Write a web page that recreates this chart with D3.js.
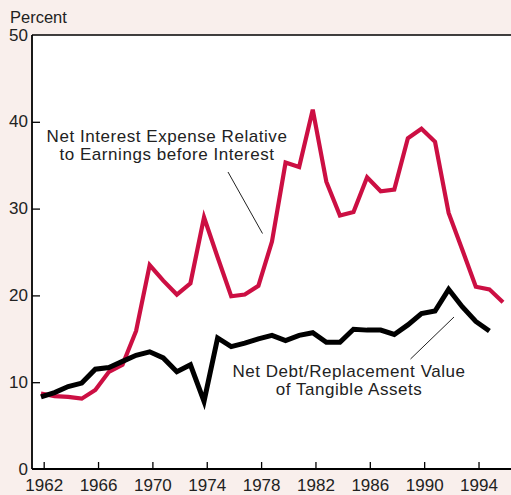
<!DOCTYPE html>
<html>
<head>
<meta charset="utf-8">
<script src="https://cdn.jsdelivr.net/npm/d3@7"></script>
<style>
  body { margin: 0; background: #f9efec; }
  svg { display: block; font-family: "Liberation Sans", Arial, sans-serif; }
</style>
</head>
<body>
<svg id="chart" width="511" height="495"></svg>
<script>
// annual values, 1962-1996
var years = d3.range(1962, 1997);
var interestExpense = [8.7, 8.4, 8.3, 8.1, 9.1, 11.2, 12.0, 15.9, 23.5, 21.7, 20.1, 21.4, 29.0, 24.4,
  19.9, 20.1, 21.1, 26.2, 35.3, 34.8, 41.4, 33.1, 29.2, 29.6, 33.6, 32.0, 32.2, 38.1, 39.2, 37.7,
  29.5, 25.3, 21.0, 20.7, 19.2];
var debtRatio = [8.3, 8.8, 9.5, 9.9, 11.5, 11.7, 12.4, 13.1, 13.5, 12.8, 11.2, 12.0, 7.8, 15.1,
  14.1, 14.5, 15.0, 15.4, 14.8, 15.4, 15.7, 14.6, 14.6, 16.1, 16.0, 16.0, 15.5, 16.6, 17.9, 18.2,
  20.7, 18.7, 17.0, 15.9];
var xTicks = [1962, 1966, 1970, 1974, 1978, 1982, 1986, 1990, 1994];
var yTicks = [0, 10, 20, 30, 40, 50];

var svg = d3.select("#chart");
var mLeft = 32, mRight = 511, mTop = 35, mBottom = 469;

var x = d3.scaleLinear().domain([1961.14, 1996.39]).range([mLeft, mRight]);
var y = d3.scaleLinear().domain([0, 50]).range([mBottom, mTop]);

// plot background
svg.append("rect")
  .attr("x", mLeft).attr("y", mTop)
  .attr("width", mRight - mLeft).attr("height", mBottom - mTop)
  .attr("fill", "#fff");

var line = d3.line()
  .x(function(d) { return x(d[0] - 0.2); })
  .y(function(d) { return y(d[1]); });

svg.append("path")
  .datum(interestExpense.map(function(v, i) { return [years[i], v]; }))
  .attr("d", line)
  .attr("fill", "none")
  .attr("stroke", "#cc0f43")
  .attr("stroke-width", 4.2)
  .attr("stroke-linejoin", "miter");

svg.append("path")
  .datum(debtRatio.map(function(v, i) { return [years[i], v]; }))
  .attr("d", line)
  .attr("fill", "none")
  .attr("stroke", "#000")
  .attr("stroke-width", 5)
  .attr("stroke-linejoin", "miter");

// axes
var xAxis = svg.append("g")
  .attr("transform", "translate(0," + mBottom + ")")
  .call(d3.axisTop(x).tickValues(xTicks).tickSize(7).tickFormat(d3.format("d")));
xAxis.select(".domain").remove();
xAxis.selectAll("line").attr("stroke", "#000").attr("stroke-width", 1.3);
xAxis.selectAll("text")
  .attr("y", 22).attr("dy", 0)
  .attr("font-size", 17).attr("fill", "#222")
  .style("font-family", "Liberation Sans, Arial, sans-serif");

var yAxis = svg.append("g")
  .attr("transform", "translate(" + mLeft + ",0)")
  .call(d3.axisRight(y).tickValues(yTicks.filter(function(d) { return d > 0 && d < 50; })).tickSize(8).tickFormat(""));
yAxis.select(".domain").remove();
yAxis.selectAll("line").attr("stroke", "#000").attr("stroke-width", 1.3);

svg.append("g").selectAll("text")
  .data(yTicks)
  .join("text")
  .attr("x", 28)
  .attr("y", function(d) { return y(d) + 5.5; })
  .attr("text-anchor", "end")
  .attr("font-size", 17)
  .attr("fill", "#222")
  .text(function(d) { return d; });

// frame lines
svg.append("line").attr("x1", mLeft).attr("x2", mRight).attr("y1", mTop).attr("y2", mTop)
  .attr("stroke", "#000").attr("stroke-width", 1.5);
svg.append("line").attr("x1", mLeft).attr("x2", mLeft).attr("y1", mTop).attr("y2", mBottom)
  .attr("stroke", "#000").attr("stroke-width", 1.8);
svg.append("line").attr("x1", mLeft).attr("x2", mRight).attr("y1", mBottom).attr("y2", mBottom)
  .attr("stroke", "#000").attr("stroke-width", 1.8);

svg.append("text")
  .attr("x", 10).attr("y", 23)
  .attr("font-size", 16.5).attr("fill", "#222")
  .text("Percent");

// labels and leaders
var labels = [
  { lines: ["Net Interest Expense Relative", "to Earnings before Interest"], cx: 167, y0: 142 },
  { lines: ["Net Debt/Replacement Value", "of Tangible Assets"], cx: 349, y0: 377 }
];
labels.forEach(function(l) {
  var t = svg.append("text")
    .attr("text-anchor", "middle")
    .attr("font-size", 17)
    .attr("letter-spacing", 0.55)
    .attr("fill", "#222");
  l.lines.forEach(function(s, i) {
    t.append("tspan").attr("x", l.cx).attr("y", l.y0 + i * 18).text(s);
  });
});

svg.append("line").attr("x1", 228).attr("y1", 172).attr("x2", 262.5).attr("y2", 233.5)
  .attr("stroke", "#222").attr("stroke-width", 1);
svg.append("line").attr("x1", 454).attr("y1", 317).attr("x2", 410.5).attr("y2", 359)
  .attr("stroke", "#222").attr("stroke-width", 1);
</script>
</body>
</html>
